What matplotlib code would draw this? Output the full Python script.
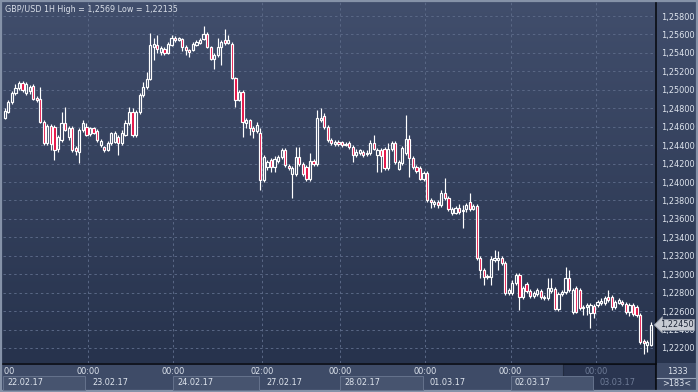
import numpy as np
import matplotlib
matplotlib.use('Agg')
import matplotlib.pyplot as plt
import matplotlib.transforms as mtransforms
from matplotlib.colors import LinearSegmentedColormap
from matplotlib.patches import Rectangle
from matplotlib.ticker import MultipleLocator, FuncFormatter

# ---------------- data ----------------
title = "GBP/USD 1H High = 1,2569 Low = 1,22135"
dates = ['22.02.17', '23.02.17', '24.02.17', '27.02.17', '28.02.17', '01.03.17', '02.03.17', '03.03.17']
day_open_times = ['00:00', '00:00', '00:00', '02:00', '00:00', '00:00', '00:00', '00:00']
bars_per_day = [24, 24, 25, 22, 24, 24, 24, 16]
last_price = 1.22450
counter_top = "1333"
counter_bottom = ">183<"

opens = [1.2469, 1.2476, 1.2487, 1.2497, 1.2502, 1.2507, 1.2497, 1.2499, 1.2504, 1.2491,
         1.2490, 1.2465, 1.2442, 1.2461, 1.2460, 1.2436, 1.2446, 1.2464, 1.2449, 1.2459,
         1.2437, 1.2433, 1.2456, 1.2460, 1.2452, 1.2459, 1.2455, 1.2440, 1.2438, 1.2435,
         1.2442, 1.2443, 1.2449, 1.2442, 1.2451, 1.2464, 1.2476, 1.2451, 1.2476, 1.2494,
         1.2503, 1.2512, 1.2546, 1.2549, 1.2541, 1.2544, 1.2540, 1.2549, 1.2556, 1.2554,
         1.2555, 1.2546, 1.2543, 1.2543, 1.2549, 1.2551, 1.2555, 1.2561, 1.2546, 1.2533,
         1.2538, 1.2546, 1.2554, 1.2551, 1.2550, 1.2513, 1.2489, 1.2498, 1.2464, 1.2467,
         1.2459, 1.2455, 1.2453, 1.2402, 1.2416, 1.2424, 1.2416, 1.2423, 1.2427, 1.2435,
         1.2417, 1.2409, 1.2409, 1.2427, 1.2420, 1.2416, 1.2403, 1.2423, 1.2420, 1.2467,
         1.2472, 1.2460, 1.2446, 1.2441, 1.2443, 1.2443, 1.2440, 1.2442, 1.2438, 1.2429,
         1.2432, 1.2433, 1.2430, 1.2432, 1.2442, 1.2429, 1.2435, 1.2436, 1.2415, 1.2436,
         1.2442, 1.2414, 1.2421, 1.2432, 1.2447, 1.2426, 1.2416, 1.2415, 1.2403, 1.2410,
         1.2381, 1.2376, 1.2378, 1.2375, 1.2388, 1.2383, 1.2366, 1.2366, 1.2372, 1.2369,
         1.2371, 1.2378, 1.2371, 1.2374, 1.2318, 1.2305, 1.2298, 1.2297, 1.2315, 1.2315,
         1.2318, 1.2312, 1.2280, 1.2280, 1.2291, 1.2299, 1.2275, 1.2289, 1.2282, 1.2276,
         1.2279, 1.2282, 1.2275, 1.2274, 1.2282, 1.2284, 1.2262, 1.2279, 1.2281, 1.2296,
         1.2259, 1.2285, 1.2283, 1.2263, 1.2264, 1.2258, 1.2266, 1.2267, 1.2269, 1.2269,
         1.2275, 1.2275, 1.2264, 1.2269, 1.2270, 1.2268, 1.2259, 1.2267, 1.2264, 1.2256,
         1.2228, 1.2223, 1.2223]

closes = [1.2477, 1.2487, 1.2497, 1.2502, 1.2507, 1.2500, 1.2506, 1.2503, 1.2490, 1.2489,
          1.2465, 1.2442, 1.2461, 1.2441, 1.2435, 1.2449, 1.2464, 1.2456, 1.2459, 1.2435,
          1.2434, 1.2456, 1.2464, 1.2451, 1.2459, 1.2453, 1.2446, 1.2445, 1.2435, 1.2442,
          1.2453, 1.2453, 1.2442, 1.2453, 1.2464, 1.2476, 1.2451, 1.2476, 1.2494, 1.2503,
          1.2512, 1.2549, 1.2550, 1.2544, 1.2545, 1.2540, 1.2550, 1.2556, 1.2554, 1.2556,
          1.2546, 1.2543, 1.2541, 1.2550, 1.2552, 1.2554, 1.2561, 1.2546, 1.2533, 1.2538,
          1.2546, 1.2552, 1.2551, 1.2554, 1.2513, 1.2489, 1.2498, 1.2465, 1.2467, 1.2459,
          1.2455, 1.2462, 1.2402, 1.2427, 1.2422, 1.2416, 1.2425, 1.2427, 1.2435, 1.2418,
          1.2415, 1.2415, 1.2427, 1.2420, 1.2409, 1.2403, 1.2423, 1.2420, 1.2469, 1.2469,
          1.2460, 1.2446, 1.2442, 1.2443, 1.2441, 1.2440, 1.2441, 1.2438, 1.2429, 1.2433,
          1.2435, 1.2429, 1.2432, 1.2442, 1.2436, 1.2435, 1.2428, 1.2415, 1.2436, 1.2442,
          1.2422, 1.2422, 1.2437, 1.2447, 1.2426, 1.2416, 1.2412, 1.2403, 1.2410, 1.2381,
          1.2378, 1.2378, 1.2375, 1.2388, 1.2383, 1.2371, 1.2371, 1.2372, 1.2368, 1.2370,
          1.2375, 1.2371, 1.2374, 1.2318, 1.2305, 1.2297, 1.2297, 1.2317, 1.2318, 1.2318,
          1.2312, 1.2280, 1.2283, 1.2291, 1.2299, 1.2275, 1.2285, 1.2282, 1.2276, 1.2280,
          1.2283, 1.2275, 1.2274, 1.2285, 1.2285, 1.2262, 1.2279, 1.2281, 1.2296, 1.2283,
          1.2283, 1.2259, 1.2263, 1.2264, 1.2267, 1.2267, 1.2258, 1.2270, 1.2271, 1.2274,
          1.2272, 1.2264, 1.2270, 1.2272, 1.2268, 1.2259, 1.2267, 1.2257, 1.2256, 1.2227,
          1.2225, 1.2227, 1.2245]

highs = [1.2480, 1.2489, 1.2499, 1.2506, 1.2510, 1.2510, 1.2508, 1.2505, 1.2506, 1.2493,
         1.2503, 1.2467, 1.2463, 1.2463, 1.2462, 1.2451, 1.2476, 1.2481, 1.2461, 1.2461,
         1.2439, 1.2459, 1.2467, 1.2464, 1.2460, 1.2460, 1.2458, 1.2447, 1.2439, 1.2445,
         1.2454, 1.2455, 1.2451, 1.2456, 1.2467, 1.2481, 1.2480, 1.2478, 1.2497, 1.2508,
         1.2519, 1.2562, 1.2556, 1.2559, 1.2548, 1.2546, 1.2552, 1.2559, 1.2558, 1.2557,
         1.2556, 1.2549, 1.2544, 1.2552, 1.2554, 1.2556, 1.2569, 1.2563, 1.2548, 1.2540,
         1.2556, 1.2554, 1.2566, 1.2559, 1.2552, 1.2514, 1.2500, 1.2500, 1.2469, 1.2468,
         1.2461, 1.2465, 1.2459, 1.2429, 1.2424, 1.2426, 1.2428, 1.2429, 1.2437, 1.2437,
         1.2420, 1.2417, 1.2438, 1.2438, 1.2422, 1.2418, 1.2432, 1.2425, 1.2478, 1.2480,
         1.2475, 1.2462, 1.2448, 1.2446, 1.2446, 1.2445, 1.2443, 1.2445, 1.2440, 1.2436,
         1.2436, 1.2435, 1.2435, 1.2446, 1.2451, 1.2437, 1.2437, 1.2438, 1.2442, 1.2445,
         1.2445, 1.2424, 1.2439, 1.2473, 1.2451, 1.2428, 1.2418, 1.2417, 1.2412, 1.2412,
         1.2383, 1.2381, 1.2381, 1.2391, 1.2404, 1.2385, 1.2373, 1.2374, 1.2376, 1.2375,
         1.2377, 1.2388, 1.2376, 1.2376, 1.2320, 1.2307, 1.2300, 1.2320, 1.2326, 1.2325,
         1.2320, 1.2314, 1.2285, 1.2294, 1.2301, 1.2301, 1.2287, 1.2292, 1.2284, 1.2282,
         1.2285, 1.2284, 1.2277, 1.2296, 1.2296, 1.2286, 1.2281, 1.2283, 1.2308, 1.2305,
         1.2285, 1.2287, 1.2285, 1.2267, 1.2269, 1.2269, 1.2268, 1.2272, 1.2274, 1.2276,
         1.2283, 1.2277, 1.2272, 1.2274, 1.2272, 1.2270, 1.2269, 1.2269, 1.2267, 1.2258,
         1.2230, 1.2229, 1.2248]

lows = [1.2468, 1.2475, 1.2485, 1.2494, 1.2500, 1.2498, 1.2494, 1.2495, 1.2489, 1.2487,
        1.2464, 1.2440, 1.2440, 1.2435, 1.2424, 1.2433, 1.2443, 1.2455, 1.2446, 1.2433,
        1.2429, 1.2421, 1.2454, 1.2450, 1.2450, 1.2452, 1.2443, 1.2438, 1.2433, 1.2434,
        1.2440, 1.2442, 1.2429, 1.2440, 1.2450, 1.2462, 1.2449, 1.2449, 1.2474, 1.2492,
        1.2501, 1.2511, 1.2532, 1.2540, 1.2538, 1.2538, 1.2539, 1.2548, 1.2552, 1.2553,
        1.2542, 1.2538, 1.2536, 1.2542, 1.2548, 1.2550, 1.2554, 1.2545, 1.2532, 1.2523,
        1.2536, 1.2527, 1.2549, 1.2550, 1.2512, 1.2481, 1.2488, 1.2449, 1.2459, 1.2451,
        1.2448, 1.2453, 1.2391, 1.2400, 1.2413, 1.2411, 1.2411, 1.2421, 1.2425, 1.2416,
        1.2413, 1.2383, 1.2407, 1.2417, 1.2407, 1.2401, 1.2401, 1.2417, 1.2417, 1.2465,
        1.2458, 1.2443, 1.2440, 1.2439, 1.2439, 1.2438, 1.2439, 1.2436, 1.2422, 1.2427,
        1.2429, 1.2427, 1.2428, 1.2429, 1.2435, 1.2411, 1.2411, 1.2413, 1.2413, 1.2434,
        1.2420, 1.2413, 1.2418, 1.2429, 1.2405, 1.2414, 1.2410, 1.2402, 1.2401, 1.2378,
        1.2372, 1.2373, 1.2372, 1.2373, 1.2381, 1.2369, 1.2364, 1.2365, 1.2365, 1.2350,
        1.2368, 1.2369, 1.2370, 1.2315, 1.2296, 1.2288, 1.2295, 1.2288, 1.2313, 1.2305,
        1.2310, 1.2277, 1.2277, 1.2277, 1.2288, 1.2261, 1.2273, 1.2280, 1.2274, 1.2274,
        1.2276, 1.2273, 1.2272, 1.2272, 1.2280, 1.2261, 1.2260, 1.2276, 1.2279, 1.2281,
        1.2257, 1.2258, 1.2261, 1.2256, 1.2256, 1.2242, 1.2253, 1.2264, 1.2267, 1.2267,
        1.2270, 1.2261, 1.2262, 1.2268, 1.2266, 1.2257, 1.2255, 1.2255, 1.2254, 1.2224,
        1.22135, 1.2216, 1.2222]

# ---------------- style ----------------
W, H = 698, 392
TXT = '#dfe5ee'
GRID = '#5a6886'
RED = '#e4063c'
FS = 5.9

fig = plt.figure(figsize=(W / 100, H / 100), dpi=100)
fig.patch.set_facecolor('#3d4a66')

# decoration layer in pixel coordinates
bg = fig.add_axes([0, 0, 1, 1])
bg.set_xlim(0, W)
bg.set_ylim(H, 0)
bg.axis('off')
grad = np.linspace(0, 1, 256).reshape(-1, 1)
cmap = LinearSegmentedColormap.from_list('g', ['#414e6c', '#27334d'])
bg.imshow(grad, extent=(0, W, 363, 0), aspect='auto', cmap=cmap, zorder=0)
bg.add_patch(Rectangle((0, 363), W, H - 363, facecolor='#3e4b67', edgecolor='none', zorder=1))
# scroll shade on the last part of the time axis
bg.add_patch(Rectangle((563, 364), 92, 26.5, facecolor='#2a3550', edgecolor='#222b40', lw=0.8, zorder=3))
# counter box
bg.plot([656, 698], [377.5, 377.5], color='#9aa6ba', lw=0.8, zorder=4)
bg.text(677, 371, counter_top, color=TXT, fontsize=FS, ha='center', va='center', zorder=9)
bg.text(677, 384, counter_bottom, color=TXT, fontsize=FS, ha='center', va='center', zorder=9)
# separators
bg.plot([655.5, 655.5], [0, H], color='#05070c', lw=1.1, zorder=6)
bg.plot([0, 655.5], [363.5, 363.5], color='#05070c', lw=1.1, zorder=6)
# outer frame
bg.add_patch(Rectangle((0.8, 0.5), W - 1.6, H - 1.3, facecolor='none', edgecolor='#8592a8', lw=1.6, zorder=7))
bg.text(5, 9, title, color='#d8dee8', fontsize=5.8, ha='left', va='center', zorder=8)

# main price axes
ax = fig.add_axes([3 / W, 29 / H, 652 / W, 363 / H])
ax.set_facecolor('none')
ax.set_xlim(-0.5, 183.2)
ax.set_ylim(1.22037, 1.25974)
for s in ax.spines.values():
    s.set_visible(False)
ax.set_xticks([])
ax.yaxis.set_major_locator(MultipleLocator(0.002))
ax.yaxis.set_major_formatter(FuncFormatter(lambda v, p: f"{v:.5f}".replace('.', ',')))
ax.yaxis.tick_right()
ax.tick_params(axis='y', length=0, pad=4.2, labelsize=FS, labelcolor=TXT)
ax.grid(axis='y', color=GRID, ls=(0, (2.5, 3)), lw=0.7)

bounds = np.cumsum([0] + bars_per_day) - 0.5
for b in bounds[1:-1]:
    ax.axvline(b, color=GRID, ls=(0, (2.5, 3)), lw=0.7, zorder=0.5)

o = np.array(opens)
c = np.array(closes)
h = np.array(highs)
l = np.array(lows)
x = np.arange(len(o))
up = c >= o
blo = np.minimum(o, c)
bhi = np.maximum(o, c)
ax.vlines(x, bhi, h, color='white', lw=0.85, zorder=2)
ax.vlines(x, l, blo, color='white', lw=0.85, zorder=2)
ax.bar(x[up], (bhi - blo)[up], bottom=blo[up], width=0.62, facecolor='none',
       edgecolor='white', lw=0.85, zorder=3)
ax.bar(x[~up], (bhi - blo)[~up], bottom=blo[~up], width=0.62, facecolor=RED,
       edgecolor='white', lw=0.85, zorder=3)

# current price tag
tag_tr = mtransforms.offset_copy(mtransforms.blended_transform_factory(ax.transAxes, ax.transData),
                                 fig=fig, x=5, y=0, units='dots')
ax.text(1.0, last_price, f"{last_price:.5f}".replace('.', ','), transform=tag_tr,
        fontsize=FS, color='#1c2435', ha='left', va='center', clip_on=False, zorder=10,
        bbox=dict(boxstyle='larrow,pad=0.12', facecolor='#c7cbd3', edgecolor='#8e96a4', lw=0.6))

# time axis panel
axb = fig.add_axes([3 / W, 1 / H, 652 / W, 28 / H], sharex=ax)
axb.set_ylim(0, 1)
axb.axis('off')
axb.set_zorder(ax.get_zorder() + 1)
for i in range(len(dates)):
    if i % 2 == 0 and i < len(dates) - 1:
        axb.axvspan(bounds[i], bounds[i + 1] - 0.8, ymin=0.04, ymax=0.52,
                    facecolor='#47546f', edgecolor='#66738d', lw=0.7, zorder=1)
date_tr = mtransforms.offset_copy(mtransforms.blended_transform_factory(axb.transData, axb.transAxes),
                                  fig=fig, x=4, y=0, units='dots')
for i, (d, t) in enumerate(zip(dates, day_open_times)):
    col = '#6f7c97' if i == len(dates) - 1 else TXT
    axb.text(bounds[i], 0.71, t, color=col, fontsize=FS, ha='center', va='center',
             clip_on=True, zorder=5)
    axb.text(bounds[i], 0.29, d, color=col, fontsize=FS, ha='left', va='center',
             transform=date_tr, clip_on=True, zorder=5)

fig.savefig('out.png', dpi=100, facecolor=fig.get_facecolor())
